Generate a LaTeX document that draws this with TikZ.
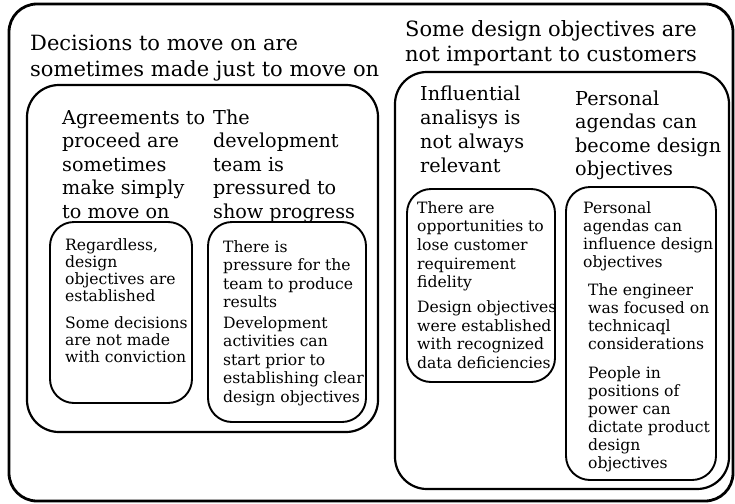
\documentclass[tikz,border=0pt]{standalone}
\usepackage{fontspec}
\setmainfont{DejaVu Serif}
\newcommand{\blocktext}[1]{\begin{tabular}[t]{@{}l@{}}#1\end{tabular}}
\begin{document}
\begin{tikzpicture}[x=1pt,y=-1pt,
  outerbox/.style={draw=black, line width=2.8pt, rounded corners=28pt},
  groupbox/.style={draw=black, line width=2.2pt, rounded corners=32pt},
  leafbox/.style={draw=black, line width=1.9pt, rounded corners=24pt},
  ttl/.style={anchor=base west, inner sep=0pt, font=\fontsize{21}{25}\selectfont},
  sub/.style={anchor=base west, inner sep=0pt, font=\fontsize{19.2}{23.5}\selectfont},
  leaf/.style={anchor=base west, inner sep=0pt}]
\useasboundingbox (0,0) rectangle (735,503);
\fill[white] (0,0) rectangle (735,503);

% boxes
\draw[outerbox] (9,4) rectangle (733,501);
\draw[groupbox] (27,85) rectangle (378,432);
\draw[groupbox] (395,72) rectangle (729,489);
\draw[leafbox] (50,222) rectangle (192,403);
\draw[leafbox] (208,222) rectangle (366,422);
\draw[leafbox] (407,189) rectangle (555,382);
\draw[leafbox] (566,187) rectangle (716,480);

% titles
\node[ttl] (tl) at (30,51) {\blocktext{Decisions to move on are\\ sometimes made just to move on}};
\node[ttl] (tr) at (405,37) {\blocktext{Some design objectives are\\ not important to customers}};

% second level
\node[sub] (s1) at (62,124) {\blocktext{Agreements to\\ proceed are\\ sometimes\\ make simply\\ to move on}};
\node[sub] (s2) at (213,124) {\blocktext{The\\ development\\ team is\\ pressured to\\ show progress}};
\node[sub, font=\fontsize{19.2}{24}\selectfont] (s3) at (420,100) {\blocktext{Influential\\ analisys is\\ not always\\ relevant}};
\node[sub] (s4) at (575,105) {\blocktext{Personal\\ agendas can\\ become design\\ objectives}};

% leaves
\node[leaf, font=\fontsize{15.6}{17}\selectfont] (la) at (65,250) {\blocktext{Regardless,\\ design\\ objectives are\\ established\\[10pt] Some decisions\\ are not made\\ with conviction}};
\node[leaf, font=\fontsize{15.6}{18.5}\selectfont] (lb) at (223,252) {\blocktext{There is\\ pressure for the\\ team to produce\\ results\\[2pt] Development\\ activities can\\ start prior to\\ establishing clear\\ design objectives}};
\node[leaf, font=\fontsize{15.6}{18.7}\selectfont] (ra) at (417,213) {\blocktext{There are\\ opportunities to\\ lose customer\\ requirement\\ fidelity\\[6pt] Design objectives\\ were established\\ with recognized\\ data deficiencies}};
\node[leaf, font=\fontsize{15.6}{18}\selectfont] (rb1) at (583,213) {\blocktext{Personal\\ agendas can\\ influence design\\ objectives}};
\node[leaf, font=\fontsize{15.6}{18}\selectfont] (rb2) at (588,295) {\blocktext{The engineer\\ was focused on\\ technicaql\\ considerations}};
\node[leaf, font=\fontsize{15.6}{18}\selectfont] (rb3) at (588,378) {\blocktext{People in\\ positions of\\ power can\\ dictate product\\ design\\ objectives}};
\end{tikzpicture}
\end{document}
